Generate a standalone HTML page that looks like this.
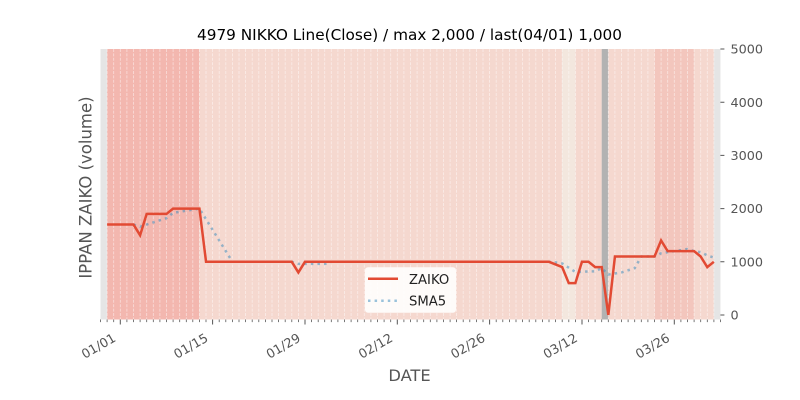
<!DOCTYPE html>
<html><head><meta charset="utf-8"><style>
html,body{margin:0;padding:0;background:#fff;}
svg{display:block;font-family:"DejaVu Sans","Liberation Sans",sans-serif;}
</style></head><body>
<svg width="800" height="400" viewBox="0 0 800 400" xmlns="http://www.w3.org/2000/svg">
<rect x="0" y="0" width="800" height="400" fill="#fff"/>
<!-- axes background -->
<rect x="100.5" y="49" width="619.95" height="270.5" fill="#E5E5E5"/>
<!-- spans -->
<rect x="107.11" y="49" width="92.33" height="270.5" fill="#F3B7AF"/>
<rect x="199.44" y="49" width="362.73" height="270.5" fill="#F5D8CF"/>
<rect x="562.17" y="49" width="13.19" height="270.5" fill="#F3E7DE"/>
<rect x="575.36" y="49" width="26.38" height="270.5" fill="#F5D8CF"/>
<rect x="601.74" y="49" width="6.59" height="270.5" fill="#B2B2B2"/>
<rect x="608.33" y="49" width="46.17" height="270.5" fill="#F5D8CF"/>
<rect x="654.50" y="49" width="39.57" height="270.5" fill="#F3C6BD"/>
<rect x="694.07" y="49" width="19.78" height="270.5" fill="#F5D8CF"/>
<!-- daily grid -->
<path stroke="#fff" stroke-opacity="0.55" stroke-width="0.8" stroke-dasharray="3 1.4" fill="none" d="M107.1 49V319.5M113.7 49V319.5M120.3 49V319.5M126.9 49V319.5M133.5 49V319.5M140.1 49V319.5M146.7 49V319.5M153.3 49V319.5M159.9 49V319.5M166.5 49V319.5M173.1 49V319.5M179.7 49V319.5M186.3 49V319.5M192.8 49V319.5M199.4 49V319.5M206.0 49V319.5M212.6 49V319.5M219.2 49V319.5M225.8 49V319.5M232.4 49V319.5M239.0 49V319.5M245.6 49V319.5M252.2 49V319.5M258.8 49V319.5M265.4 49V319.5M272.0 49V319.5M278.6 49V319.5M285.2 49V319.5M291.8 49V319.5M298.4 49V319.5M305.0 49V319.5M311.6 49V319.5M318.2 49V319.5M324.7 49V319.5M331.3 49V319.5M337.9 49V319.5M344.5 49V319.5M351.1 49V319.5M357.7 49V319.5M364.3 49V319.5M370.9 49V319.5M377.5 49V319.5M384.1 49V319.5M390.7 49V319.5M397.3 49V319.5M403.9 49V319.5M410.5 49V319.5M417.1 49V319.5M423.7 49V319.5M430.3 49V319.5M436.9 49V319.5M443.5 49V319.5M450.1 49V319.5M456.6 49V319.5M463.2 49V319.5M469.8 49V319.5M476.4 49V319.5M483.0 49V319.5M489.6 49V319.5M496.2 49V319.5M502.8 49V319.5M509.4 49V319.5M516.0 49V319.5M522.6 49V319.5M529.2 49V319.5M535.8 49V319.5M542.4 49V319.5M549.0 49V319.5M555.6 49V319.5M562.2 49V319.5M568.8 49V319.5M575.4 49V319.5M582.0 49V319.5M588.5 49V319.5M595.1 49V319.5M608.3 49V319.5M614.9 49V319.5M621.5 49V319.5M628.1 49V319.5M634.7 49V319.5M641.3 49V319.5M647.9 49V319.5M654.5 49V319.5M661.1 49V319.5M667.7 49V319.5M674.3 49V319.5M680.9 49V319.5M687.5 49V319.5M694.1 49V319.5M700.7 49V319.5M707.3 49V319.5M713.9 49V319.5"/>
<!-- SMA5 -->
<polyline fill="none" stroke="#348ABD" stroke-opacity="0.5" stroke-width="2.5" stroke-dasharray="2.5 4.1" points="133.49,224.56 140.09,226.69 146.68,224.56 153.28,222.43 159.87,220.30 166.47,218.18 173.06,212.86 179.66,211.79 186.25,210.73 192.85,209.66 199.44,208.6 206.04,219.24 212.63,229.88 219.23,240.52 225.82,251.16 232.42,261.8 291.77,261.8 298.37,263.93 324.75,263.93 331.34,261.8 548.98,261.8 555.57,262.33 562.17,263.40 568.76,267.65 575.36,271.91 581.95,271.91 588.55,271.38 595.14,271.38 601.74,268.18 608.33,274.57 614.93,273.50 621.52,272.44 628.12,270.31 634.71,268.18 641.31,256.48 654.50,256.48 661.09,253.29 667.69,252.22 674.28,251.16 680.88,250.10 687.47,249.03 694.07,251.16 700.66,252.22 707.26,255.42 713.85,257.54"/>
<!-- ZAIKO -->
<polyline fill="none" stroke="#E24A33" stroke-width="2.5" stroke-linejoin="miter" points="107.11,224.56 133.49,224.56 140.09,235.2 146.68,213.92 166.47,213.92 173.06,208.6 199.44,208.6 206.04,261.8 291.77,261.8 298.37,272.44 304.96,261.8 548.98,261.8 555.57,264.46 562.17,267.12 568.76,283.08 575.36,283.08 581.95,261.8 588.55,261.8 595.14,267.12 601.74,267.12 608.33,315 614.93,256.48 654.50,256.48 661.09,240.52 667.69,251.16 694.07,251.16 700.66,256.48 707.26,267.12 713.85,261.8"/>
<!-- x ticks -->
<path stroke="#555" stroke-width="0.8" fill="none" d="M100.5 319.5v2.6M107.1 319.5v2.6M113.7 319.5v2.6M126.9 319.5v2.6M133.5 319.5v2.6M140.1 319.5v2.6M146.7 319.5v2.6M153.3 319.5v2.6M159.9 319.5v2.6M166.5 319.5v2.6M173.1 319.5v2.6M179.7 319.5v2.6M186.3 319.5v2.6M192.8 319.5v2.6M199.4 319.5v2.6M206.0 319.5v2.6M219.2 319.5v2.6M225.8 319.5v2.6M232.4 319.5v2.6M239.0 319.5v2.6M245.6 319.5v2.6M252.2 319.5v2.6M258.8 319.5v2.6M265.4 319.5v2.6M272.0 319.5v2.6M278.6 319.5v2.6M285.2 319.5v2.6M291.8 319.5v2.6M298.4 319.5v2.6M311.6 319.5v2.6M318.2 319.5v2.6M324.7 319.5v2.6M331.3 319.5v2.6M337.9 319.5v2.6M344.5 319.5v2.6M351.1 319.5v2.6M357.7 319.5v2.6M364.3 319.5v2.6M370.9 319.5v2.6M377.5 319.5v2.6M384.1 319.5v2.6M390.7 319.5v2.6M403.9 319.5v2.6M410.5 319.5v2.6M417.1 319.5v2.6M423.7 319.5v2.6M430.3 319.5v2.6M436.9 319.5v2.6M443.5 319.5v2.6M450.1 319.5v2.6M456.6 319.5v2.6M463.2 319.5v2.6M469.8 319.5v2.6M476.4 319.5v2.6M483.0 319.5v2.6M496.2 319.5v2.6M502.8 319.5v2.6M509.4 319.5v2.6M516.0 319.5v2.6M522.6 319.5v2.6M529.2 319.5v2.6M535.8 319.5v2.6M542.4 319.5v2.6M549.0 319.5v2.6M555.6 319.5v2.6M562.2 319.5v2.6M568.8 319.5v2.6M575.4 319.5v2.6M588.5 319.5v2.6M595.1 319.5v2.6M601.7 319.5v2.6M608.3 319.5v2.6M614.9 319.5v2.6M621.5 319.5v2.6M628.1 319.5v2.6M634.7 319.5v2.6M641.3 319.5v2.6M647.9 319.5v2.6M654.5 319.5v2.6M661.1 319.5v2.6M667.7 319.5v2.6M680.9 319.5v2.6M687.5 319.5v2.6M694.1 319.5v2.6M700.7 319.5v2.6M707.3 319.5v2.6M713.9 319.5v2.6M720.4 319.5v2.6"/>
<path stroke="#555" stroke-width="1" fill="none" d="M120.3 319.5v5M212.6 319.5v5M305.0 319.5v5M397.3 319.5v5M489.6 319.5v5M582.0 319.5v5M674.3 319.5v5"/>
<!-- y ticks -->
<path stroke="#555" stroke-width="1" fill="none" d="M720.4 315h4M720.4 261.8h4M720.4 208.6h4M720.4 155.4h4M720.4 102.2h4M720.4 49h4"/>
<g fill="#555" font-size="12.8">
<text x="730.5" y="319.6">0</text>
<text x="730.5" y="266.4">1000</text>
<text x="730.5" y="213.2">2000</text>
<text x="730.5" y="160">3000</text>
<text x="730.5" y="106.8">4000</text>
<text x="730.5" y="53.6">5000</text>
</g>
<g fill="#555" font-size="12.8" text-anchor="end">
<text transform="translate(116.7,340.5) rotate(-30)">01/01</text>
<text transform="translate(209.0,340.5) rotate(-30)">01/15</text>
<text transform="translate(301.4,340.5) rotate(-30)">01/29</text>
<text transform="translate(393.7,340.5) rotate(-30)">02/12</text>
<text transform="translate(486.0,340.5) rotate(-30)">02/26</text>
<text transform="translate(578.4,340.5) rotate(-30)">03/12</text>
<text transform="translate(670.7,340.5) rotate(-30)">03/26</text>
</g>
<!-- labels -->
<text x="409.5" y="381" fill="#555" font-size="16.3" text-anchor="middle">DATE</text>
<text transform="translate(91.5,187.5) rotate(-90)" fill="#555" font-size="16.5" text-anchor="middle">IPPAN ZAIKO (volume)</text>
<text x="409.5" y="40" fill="#000" font-size="15.3" text-anchor="middle" textLength="425" lengthAdjust="spacingAndGlyphs">4979 NIKKO Line(Close) / max 2,000 / last(04/01) 1,000</text>
<!-- legend -->
<rect x="365" y="267.3" width="91" height="45.4" rx="3" ry="3" fill="#fff" fill-opacity="0.88"/>
<line x1="368" y1="278.7" x2="398" y2="278.7" stroke="#E24A33" stroke-width="2.5"/>
<line x1="368" y1="300.7" x2="398" y2="300.7" stroke="#348ABD" stroke-opacity="0.5" stroke-width="2.5" stroke-dasharray="2.5 4.1"/>
<g fill="#222" font-size="13.2">
<text x="409" y="284">ZAIKO</text>
<text x="409" y="305.5">SMA5</text>
</g>
</svg>
</body></html>
